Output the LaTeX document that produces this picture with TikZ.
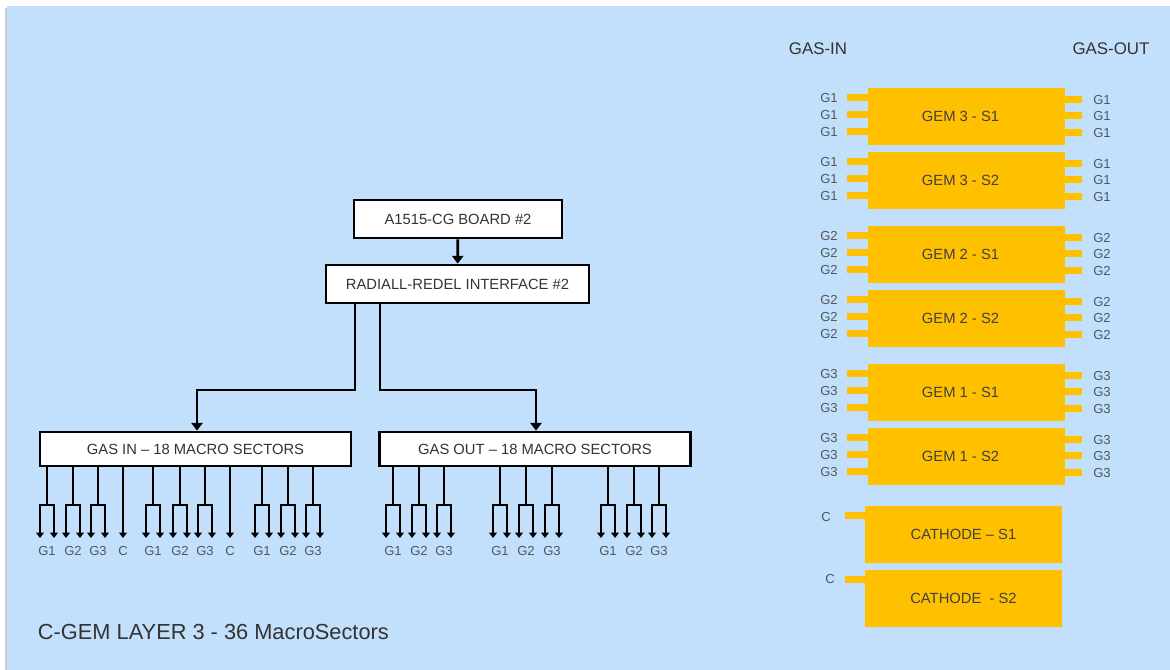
\documentclass[tikz,border=0pt]{standalone}
\usepackage{fontspec}
\setmainfont{Liberation Sans}
\usepackage{tikz}
\usetikzlibrary{positioning,arrows.meta}
\definecolor{panelblue}{RGB}{194,224,252}
\definecolor{gemyellow}{RGB}{255,192,0}
\definecolor{pingray}{RGB}{82,86,92}
\definecolor{textdark}{RGB}{51,51,51}
\tikzset{%
  block/.style={
    rectangle,
    draw=black,
    line width=2pt,
    fill=white,
    text=textdark,
    font=\fontsize{10.5}{12}\selectfont
  },
  gem/.style={
    rectangle,
    fill=gemyellow,
    minimum width=4.925cm,
    minimum height=1.425cm,
    text=black!75,
    font=\fontsize{10.5}{12}\selectfont
  },
  pin/.style={fill=gemyellow},
  pin label/.style={
    text=pingray,
    inner sep=0pt,
    font=\fontsize{9.3}{10}\selectfont
  },
  header/.style={text=textdark, font=\fontsize{12}{14}\selectfont},
  wire/.style={line width=2pt},
  fork/.style={wire, -{Triangle[length=3.8pt,width=5.5pt]}},
}

\begin{document}
\begin{tikzpicture}[> = {Triangle[length=5.5pt,width=8pt]}, x=0.025cm, y=-0.025cm]
\useasboundingbox (0,0) rectangle (1170,670);
\fill[black!20] (5,8) rectangle (7,670);
\fill[panelblue] (7,6) rectangle (1170,670);

% readout chain
\node[block, minimum width=5.2cm, minimum height=0.95cm] (board) at (458,219) {A1515-CG BOARD \#2};
\node[block, minimum width=6.575cm, minimum height=0.95cm] (iface) at (457.5,284) {RADIALL-REDEL INTERFACE \#2};
\node[block, minimum width=7.775cm, minimum height=0.85cm] (gasin) at (195.5,449) {GAS IN -- 18 MACRO SECTORS};
\node[block, minimum width=7.775cm, minimum height=0.85cm] (gasout) at (535,449) {GAS OUT -- 18 MACRO SECTORS};

\draw[wire,->] (board) -- (iface);
\coordinate (splitin) at (355,390);
\coordinate (splitout) at (380,390);
\draw[wire,->] (iface.south -| splitin) -- (splitin) -| ([xshift=1.5*0.025cm]gasin.north);
\draw[wire,->] (iface.south -| splitout) -- (splitout) -| ([xshift=1*0.025cm]gasout.north);

% gas-in fan-out, C lines go straight down
\foreach \x/\g [count=\i] in {47/G1,73/G2,98/G3,153/G1,180/G2,205/G3,262/G1,288/G2,313/G3}{
  \coordinate (inf\i) at (\x,505);
  \draw[wire] (gasin.south -| inf\i) -- (inf\i);
  \draw[fork] (inf\i) -| ++(-7,33);
  \draw[fork] (inf\i) -| ++(7,33);
  \node[pin label] (inl\i) at (\x,551) {\g};
}
\foreach \x [count=\i] in {123,230}{
  \coordinate (inc\i) at (\x,538);
  \draw[fork] (gasin.south -| inc\i) -- (inc\i);
  \node[pin label] (incl\i) at (\x,551) {C};
}

% gas-out fan-out
\foreach \x/\g [count=\i] in {393/G1,419/G2,444/G3,500/G1,526/G2,552/G3,608/G1,634/G2,659/G3}{
  \coordinate (outf\i) at (\x,505);
  \draw[wire] (gasout.south -| outf\i) -- (outf\i);
  \draw[fork] (outf\i) -| ++(-7,33);
  \draw[fork] (outf\i) -| ++(7,33);
  \node[pin label] (outl\i) at (\x,551) {\g};
}

% GEM foils with their gas pins
\node[header] (hdrin) at (818,49) {GAS-IN};
\node[header] (hdrout) at (1111,49) {GAS-OUT};
\foreach \y/\name/\g [count=\i] in {88/GEM 3 - S1/G1,152/GEM 3 - S2/G1,226/GEM 2 - S1/G2,290/GEM 2 - S2/G2,364/GEM 1 - S1/G3,428/GEM 1 - S2/G3}{
  \node[gem] (gem\i) at (966.5,\y+28.5) {\name\hspace*{0.3cm}};
  \foreach \o [count=\j] in {10,27,44}{
    \fill[pin] (gem\i.north west) ++(-21,\o-3.5) rectangle ++(21,7);
    \node[pin label, anchor=east] (gin\i\j) at (838,\y+\o) {\g};
  }
  \foreach \o [count=\j] in {12,28,45}{
    \fill[pin] (gem\i.north east) ++(0,\o-3.5) rectangle ++(17,7);
    \node[pin label, anchor=west] (gout\i\j) at (1093,\y+\o) {\g};
  }
}

% cathodes
\foreach \y/\name/\cx/\cy [count=\i] in {506/CATHODE -- S1/826/11,570/CATHODE~ - S2/830/9}{
  \node[gem] (cath\i) at (963.5,\y+28.5) {\name};
  \fill[pin] (cath\i.north west) ++(-20,6) rectangle ++(20,7);
  \node[pin label] (cathl\i) at (\cx,\y+\cy) {C};
}

\node[anchor=west, text=textdark, font=\fontsize{15.5}{18}\selectfont] (title) at (33,632) {C-GEM LAYER 3 - 36 MacroSectors};
\end{tikzpicture}
\end{document}
